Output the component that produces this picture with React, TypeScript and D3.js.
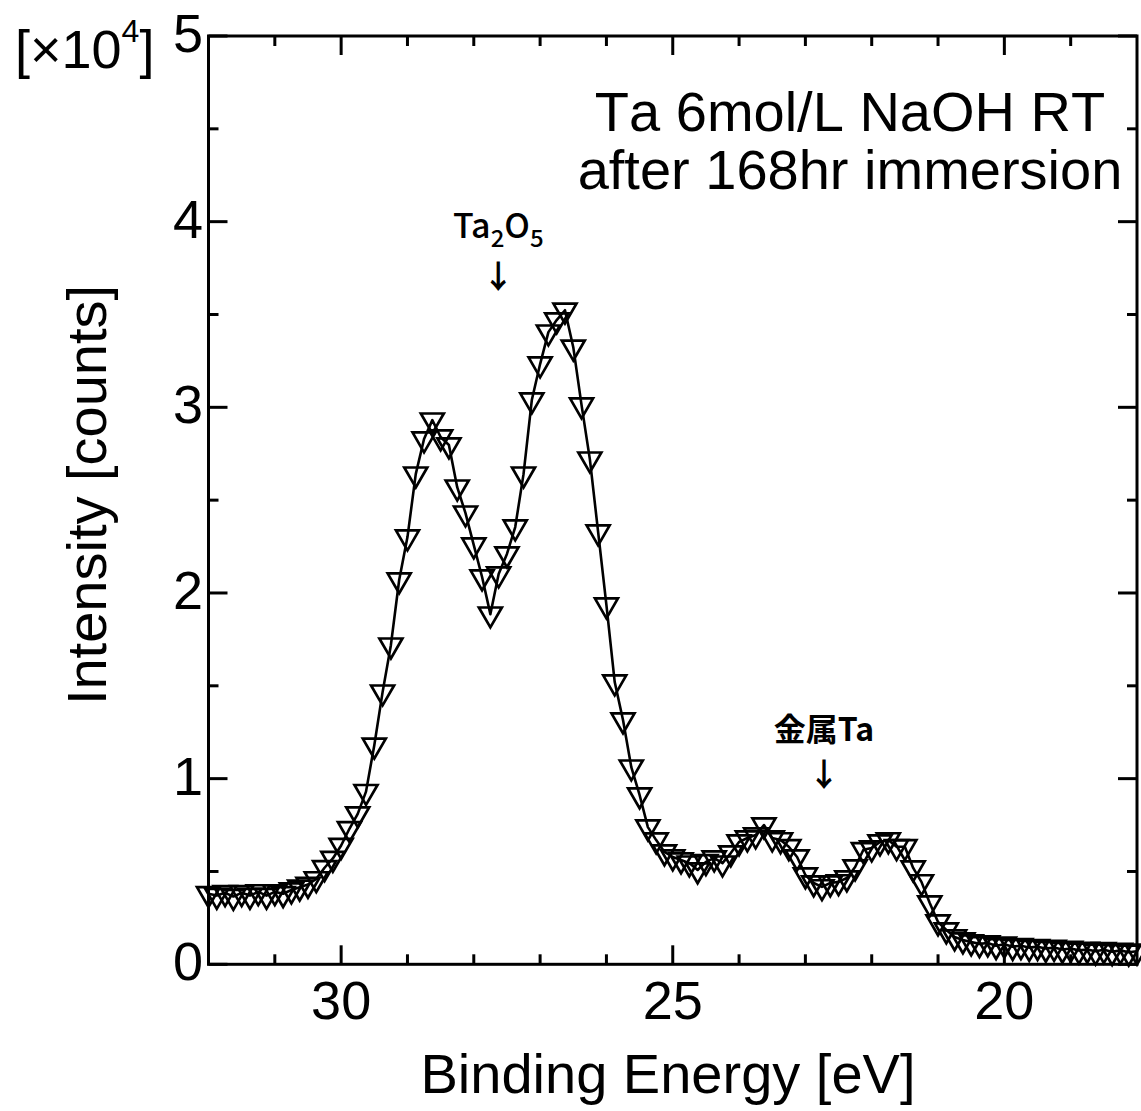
import React from "react";
import * as d3 from "d3";

const energies: number[] = [
  32, 31.875, 31.75, 31.625, 31.5, 31.375, 31.25, 31.125,
  31, 30.875, 30.75, 30.625, 30.5, 30.375, 30.25, 30.125,
  30, 29.875, 29.75, 29.625, 29.5, 29.375, 29.25, 29.125,
  29, 28.875, 28.75, 28.625, 28.5, 28.375, 28.25, 28.125,
  28, 27.875, 27.75, 27.625, 27.5, 27.375, 27.25, 27.125,
  27, 26.875, 26.75, 26.625, 26.5, 26.375, 26.25, 26.125,
  26, 25.875, 25.75, 25.625, 25.5, 25.375, 25.25, 25.125,
  25, 24.875, 24.75, 24.625, 24.5, 24.375, 24.25, 24.125,
  24, 23.875, 23.75, 23.625, 23.5, 23.375, 23.25, 23.125,
  23, 22.875, 22.75, 22.625, 22.5, 22.375, 22.25, 22.125,
  22, 21.875, 21.75, 21.625, 21.5, 21.375, 21.25, 21.125,
  21, 20.875, 20.75, 20.625, 20.5, 20.375, 20.25, 20.125,
  20, 19.875, 19.75, 19.625, 19.5, 19.375, 19.25, 19.125,
  19, 18.875, 18.75, 18.625, 18.5, 18.375, 18.25, 18.125,
  18,
];

// intensity in units of 10^4 counts
const intensities: number[] = [
  0.38, 0.37, 0.385, 0.365, 0.385, 0.37, 0.39, 0.37,
  0.39, 0.38, 0.4, 0.415, 0.43, 0.46, 0.52, 0.57,
  0.64, 0.73, 0.81, 0.93, 1.18, 1.466, 1.719, 2.07,
  2.301, 2.64, 2.829, 2.931, 2.84, 2.797, 2.57, 2.43,
  2.258, 2.086, 1.886, 2.102, 2.21, 2.355, 2.64, 3.039,
  3.233, 3.405, 3.47, 3.523, 3.324, 3.012, 2.721, 2.328,
  1.935, 1.52, 1.316, 1.062, 0.912, 0.739, 0.669, 0.605,
  0.578, 0.562, 0.545, 0.508, 0.552, 0.572, 0.545, 0.599,
  0.659, 0.68, 0.696, 0.75, 0.68, 0.67, 0.633, 0.578,
  0.481, 0.438, 0.417, 0.438, 0.444, 0.465, 0.524, 0.617,
  0.626, 0.659, 0.67, 0.633, 0.633, 0.519, 0.444, 0.33,
  0.228, 0.185, 0.147, 0.131, 0.12, 0.11, 0.115, 0.1,
  0.108, 0.095, 0.1, 0.09, 0.095, 0.085, 0.09, 0.08,
  0.085, 0.075, 0.08, 0.07, 0.078, 0.068, 0.075, 0.065,
  0.07,
];

const xMajorTicks = [30, 25, 20];
const xMinorTicks = [31, 29, 28, 27, 26, 24, 23, 22, 21, 19];
const yMajorTicks = [0, 1, 2, 3, 4, 5];
const yMinorTicks = [0.5, 1.5, 2.5, 3.5, 4.5];

const titleLines = ["Ta 6mol/L NaOH RT", "after 168hr immersion"];
const xTitle = "Binding Energy [eV]";
const yTitle = "Intensity [counts]";
const peakLabels = [
  { e: 27.63, text: "Ta2O5" },
  { e: 22.72, text: "金属Ta" },
];

const W = 1141;
const H = 1111;
const FONT = "'Liberation Sans', Arial, Helvetica, sans-serif";
const JFONT = "'Noto Sans CJK JP', 'Noto Sans', sans-serif";

export default function App() {
  const x = d3.scaleLinear().domain([32, 18]).range([208.5, 1137]);
  const y = d3.scaleLinear().domain([0, 5]).range([964.3, 36]);
  const [xl, xr] = x.range();
  const [yb, yt] = y.range();

  const pts = energies.map((e, i) => [x(e), y(intensities[i])] as [number, number]);
  const line = d3.line()(pts) || "";
  const tri = d3.symbol().type(d3.symbolTriangle).size(229)() || "";

  const majorLen = 19;
  const minorLen = 10;

  return (
    <svg
      width={W}
      height={H}
      style={{ position: "absolute", left: 0, top: 0, background: "#fff" }}
    >
      <rect x={0} y={0} width={W} height={H} fill="#fff" />
      {/* data line */}
      <path d={line} fill="none" stroke="#000" strokeWidth={2.6} strokeLinejoin="round" />
      {/* markers */}
      {pts.map(([px, py], i) => (
        <path
          key={i}
          d={tri}
          transform={`translate(${px},${py}) rotate(180)`}
          fill="none"
          stroke="#000"
          strokeWidth={2.7}
          strokeLinejoin="miter"
        />
      ))}
      {/* frame */}
      <rect x={xl} y={yt} width={xr - xl} height={yb - yt} fill="none" stroke="#000" strokeWidth={3} />
      {/* x ticks bottom & top */}
      {xMajorTicks.map((t) => (
        <g key={"xM" + t}>
          <line x1={x(t)} x2={x(t)} y1={yb} y2={yb - majorLen} stroke="#000" strokeWidth={3} />
          <line x1={x(t)} x2={x(t)} y1={yt} y2={yt + majorLen} stroke="#000" strokeWidth={3} />
          <text x={x(t)} y={1019} textAnchor="middle" fontFamily={FONT} fontSize={54}>
            {t}
          </text>
        </g>
      ))}
      {xMinorTicks.map((t) => (
        <g key={"xm" + t}>
          <line x1={x(t)} x2={x(t)} y1={yb} y2={yb - minorLen} stroke="#000" strokeWidth={3} />
          <line x1={x(t)} x2={x(t)} y1={yt} y2={yt + minorLen} stroke="#000" strokeWidth={3} />
        </g>
      ))}
      {/* y ticks left & right */}
      {yMajorTicks.map((t) => (
        <g key={"yM" + t}>
          <line x1={xl} x2={xl + majorLen} y1={y(t)} y2={y(t)} stroke="#000" strokeWidth={3} />
          <line x1={xr} x2={xr - majorLen} y1={y(t)} y2={y(t)} stroke="#000" strokeWidth={3} />
          <text x={203} y={y(t) + 16} textAnchor="end" fontFamily={FONT} fontSize={54}>
            {t}
          </text>
        </g>
      ))}
      {yMinorTicks.map((t) => (
        <g key={"ym" + t}>
          <line x1={xl} x2={xl + minorLen} y1={y(t)} y2={y(t)} stroke="#000" strokeWidth={3} />
          <line x1={xr} x2={xr - minorLen} y1={y(t)} y2={y(t)} stroke="#000" strokeWidth={3} />
        </g>
      ))}
      {/* scale factor */}
      <text x={15} y={68} fontFamily={FONT} fontSize={54}>
        [×10
        <tspan fontSize={32} dy={-26}>4</tspan>
        <tspan dy={26}>]</tspan>
      </text>
      {/* axis titles */}
      <text x={668} y={1093} textAnchor="middle" fontFamily={FONT} fontSize={56}>
        {xTitle}
      </text>
      <text
        transform={`translate(106,495) rotate(-90)`}
        textAnchor="middle"
        fontFamily={FONT}
        fontSize={56}
      >
        {yTitle}
      </text>
      {/* title */}
      {titleLines.map((s, i) => (
        <text
          key={s}
          x={850}
          y={131 + i * 58}
          textAnchor="middle"
          fontFamily={FONT}
          fontSize={56}
          style={{ fontKerning: "none" }}
        >
          {s}
        </text>
      ))}
      {/* peak annotations */}
      <text x={x(peakLabels[0].e)} y={238} textAnchor="middle" fontFamily={JFONT} fontSize={34} fontWeight={500}>
        Ta
        <tspan fontSize={24} dy={9}>2</tspan>
        <tspan dy={-9}>O</tspan>
        <tspan fontSize={24} dy={9}>5</tspan>
      </text>
      <text x={x(peakLabels[0].e)} y={288} textAnchor="middle" fontFamily={JFONT} fontSize={32} fontWeight="bold">
        ↓
      </text>
      <text x={x(peakLabels[1].e)} y={741} textAnchor="middle" fontFamily={JFONT} fontSize={32} fontWeight="bold">
        {peakLabels[1].text}
      </text>
      <text x={x(peakLabels[1].e)} y={786} textAnchor="middle" fontFamily={JFONT} fontSize={32} fontWeight="bold">
        ↓
      </text>
    </svg>
  );
}
